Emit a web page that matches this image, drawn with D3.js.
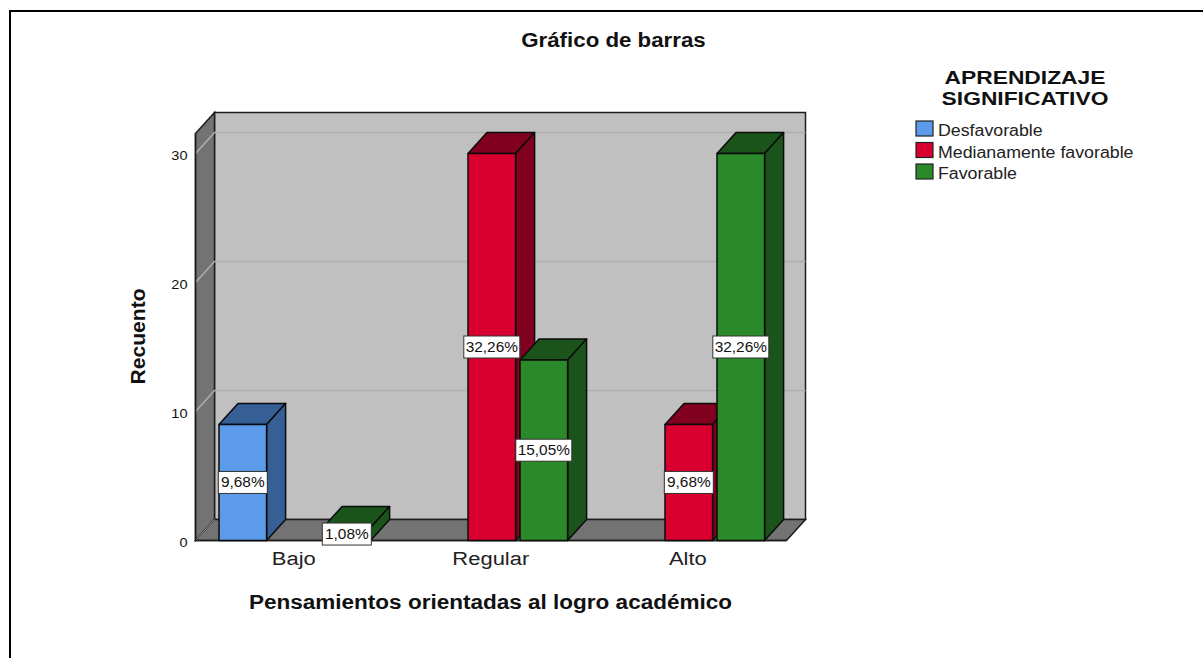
<!DOCTYPE html>
<html><head><meta charset="utf-8">
<script src="https://cdn.jsdelivr.net/npm/d3@7/dist/d3.min.js"></script>
<style>html,body{margin:0;padding:0;background:#fff}svg{display:block}text{font-family:"Liberation Sans",Arial,sans-serif}</style>
</head><body><svg id="c" width="1203" height="658"></svg>
<script>
const categories = ["Bajo","Regular","Alto"];
const seriesNames = ["Desfavorable","Medianamente favorable","Favorable"];
const seriesFront = ["#5b9bea","#d90030","#2a8a2a"];
const seriesShade = ["#365f96","#82001f","#1a541a"];
const desfavorable = [9,0,0];
const medianamente = [0,30,9];
const favorable = [1,14,30];
const labelsDesfavorable = ["9,68%",null,null];
const labelsMedianamente = [null,"32,26%","9,68%"];
const labelsFavorable = ["1,08%","15,05%","32,26%"];
const yTicks = [0,10,20,30];

const svg = d3.select("#c");
// the reference's text is horizontally stretched
const stretch = (sel,k)=>sel.each(function(){
  this.setAttribute("textLength",this.getComputedTextLength()*k);
  this.setAttribute("lengthAdjust","spacingAndGlyphs");
});
const L = 195.5, R = 786.5;
const x0 = d3.scaleBand().domain(categories).range([L+0.8,R+0.8]);
const x1 = d3.scaleBand().domain(seriesNames).range([0,x0.bandwidth()]).paddingInner(0.085).paddingOuter(0.4365);
const y = d3.scaleLinear().domain([0,30]).range([540.5,153.5]);
const dx = 19, dy = -21;
const plotTop = 133.5;

// frame
svg.append("path").attr("d","M10,658V11H1203").attr("fill","none").attr("stroke","#000").attr("stroke-width",2);

// chart frame: left wall, floor, back wall
const B = y(0);
const line = "#1c1c1c";
svg.append("rect").attr("x",L+dx).attr("y",plotTop+dy).attr("width",R-L).attr("height",B-plotTop)
  .attr("fill","#c0c0c0").attr("stroke",line).attr("stroke-width",1.5);
svg.append("path").attr("d",`M${L},${plotTop}L${L+dx},${plotTop+dy}V${B+dy}L${L},${B}Z`)
  .attr("fill","#737373").attr("stroke",line).attr("stroke-width",1.5);
svg.append("path").attr("d",`M${L},${B}L${L+dx},${B+dy}H${R+dx}L${R},${B}Z`)
  .attr("fill","#737373").attr("stroke",line).attr("stroke-width",1.5);

// gridlines on walls
yTicks.filter(d=>d>0).forEach(t=>{
  svg.append("path").attr("d",`M${L},${y(t)}L${L+dx},${y(t)+dy}H${R+dx}`)
    .attr("fill","none").attr("stroke","#aeaeae").attr("stroke-width",1.5);
});
svg.append("path").attr("d",`M${L},${B}L${L+dx},${B+dy}`).attr("fill","none").attr("stroke","#a9a9a9").attr("stroke-width",1);

// y axis
const yAxis = d3.axisLeft(y).tickValues(yTicks).tickSize(0).tickPadding(8);
const ga = svg.append("g").attr("transform",`translate(${L},1.5)`).call(yAxis);
ga.select(".domain").attr("d",`M0,${plotTop-1.5}V${B-1.5}`).attr("stroke",line).attr("stroke-width",1.5);
ga.selectAll("text").attr("font-size",13).attr("font-family","Liberation Sans").attr("fill","#111").call(stretch,1.12);

// x axis line and labels
svg.append("line").attr("x1",L).attr("x2",R).attr("y1",B).attr("y2",B).attr("stroke",line).attr("stroke-width",1.5);
const xa = d3.axisBottom(x0).tickSize(0).tickPadding(12);
const gx = svg.append("g").attr("transform",`translate(-1,${B})`).call(xa);
gx.select(".domain").remove();
gx.selectAll("text").attr("font-size",18).attr("font-family","Liberation Sans").attr("fill","#222").call(stretch,1.22);

// bars
const rows = [];
[desfavorable,medianamente,favorable].forEach((arr,s)=>{
  const labs = [labelsDesfavorable,labelsMedianamente,labelsFavorable][s];
  arr.forEach((v,c)=>{ if(v>0) rows.push({c:categories[c],s,v,label:labs[c]}); });
});
rows.sort((a,b)=>(x0(a.c)+x1(seriesNames[a.s]))-(x0(b.c)+x1(seriesNames[b.s])));
const bx = d=>x0(d.c)+x1(seriesNames[d.s]), bw = x1.bandwidth();
const bars = svg.append("g").selectAll("g").data(rows).join("g")
  .attr("stroke","#0b0b0b").attr("stroke-width",1.5).attr("stroke-linejoin","round");
bars.append("path").attr("fill",d=>seriesShade[d.s])
  .attr("d",d=>{const a=bx(d),t=y(d.v);return `M${a},${t}L${a+dx},${t+dy}H${a+bw+dx}L${a+bw},${t}Z`;});
bars.append("path").attr("fill",d=>seriesShade[d.s])
  .attr("d",d=>{const a=bx(d)+bw,t=y(d.v);return `M${a},${t}L${a+dx},${t+dy}V${B+dy}L${a},${B}Z`;});
bars.append("rect").attr("fill",d=>seriesFront[d.s])
  .attr("x",bx).attr("y",d=>y(d.v)).attr("width",bw).attr("height",d=>B-y(d.v));

// value labels
const lab = svg.append("g").selectAll("g").data(rows).join("g")
  .attr("transform",d=>`translate(${bx(d)+bw/2},${y(d.v/2)})`);
lab.append("rect").attr("x",d=>d.label.length>5?-28:-24.5).attr("y",-11)
  .attr("width",d=>d.label.length>5?56:49).attr("height",22)
  .attr("fill","#fff").attr("stroke","#333").attr("stroke-width",1);
lab.append("text").attr("text-anchor","middle").attr("dy","0.36em").attr("font-size",14).attr("fill","#111").text(d=>d.label).call(stretch,1.1);

// titles
const boldAttrs = s=>s.attr("text-anchor","middle").attr("font-weight","bold").attr("fill","#111");
svg.append("text").attr("x",613.5).attr("y",47).call(boldAttrs).attr("font-size",20).text("Gráfico de barras").call(stretch,1.114);
svg.append("text").attr("x",490.5).attr("y",609).call(boldAttrs).attr("font-size",20).text("Pensamientos orientadas al logro académico").call(stretch,1.126);
svg.append("text").attr("transform","translate(145,336.5) rotate(-90)").call(boldAttrs).attr("font-size",20).text("Recuento").call(stretch,1.055);

// legend
svg.append("text").attr("x",1025).attr("y",84).call(boldAttrs).attr("font-size",19).text("APRENDIZAJE").call(stretch,1.2);
svg.append("text").attr("x",1025).attr("y",105).call(boldAttrs).attr("font-size",19).text("SIGNIFICATIVO").call(stretch,1.2);
const lg = svg.append("g").selectAll("g").data(seriesNames).join("g").attr("transform",(d,i)=>`translate(916,${121+i*21.5})`);
lg.append("rect").attr("width",17).attr("height",15).attr("fill",(d,i)=>seriesFront[i]).attr("stroke","#222").attr("stroke-width",1.2);
lg.append("text").attr("x",22).attr("y",15).attr("font-size",16).attr("fill","#222").text(d=>d).call(stretch,1.11);
</script></body></html>
